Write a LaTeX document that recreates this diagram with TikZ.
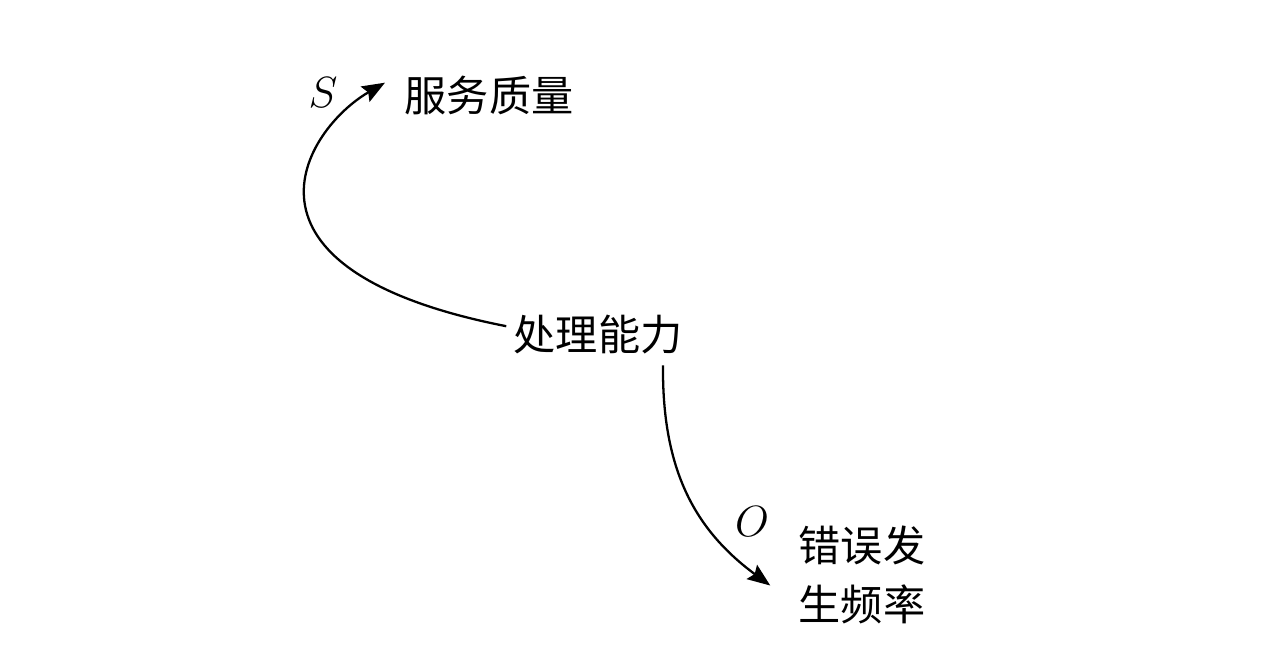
\documentclass[tikz,border=0pt]{standalone}
\usepackage{fontspec}
\newfontfamily\cjk{Noto Sans CJK SC}
\usetikzlibrary{arrows.meta}
\tikzset{
  term/.style={font=\cjk\fontsize{24}{34}\selectfont, inner sep=4pt, align=center},
  tag/.style={font=\fontsize{23}{28}\selectfont, inner sep=0pt},
  flow/.style={line width=1.3pt, -{Stealth[length=13pt, width=10pt, inset=2pt]}}
}
\begin{document}
\begin{tikzpicture}
    \useasboundingbox (0,0) rectangle (25.52,13.28);
        % Define node positions
        \node[term] (serv) at (9.78, 11.38) {服务质量};
        \node[term] (proc) at (11.96, 6.58) {处理能力};
        \node[term] (err) at (17.24, 1.78) {错误发\\生频率};
        \node[tag] (S) at (6.46, 11.42) {$S$};
        \node[tag] (O) at (15.04, 2.84) {$O$};

        % Draw arrows
        \draw[flow] ([yshift=5pt]proc.west) .. controls (4.3, 7.9) and
        (6.1, 10.7) .. ([xshift=-7pt, yshift=7pt]serv.west);
        \draw[flow] ([xshift=1.3cm, yshift=-2pt]proc.south) .. controls
        (13.24, 3.88) and (13.9, 2.68) .. ([xshift=-12pt, yshift=-6pt]err.west);
    \end{tikzpicture}
\end{document}
